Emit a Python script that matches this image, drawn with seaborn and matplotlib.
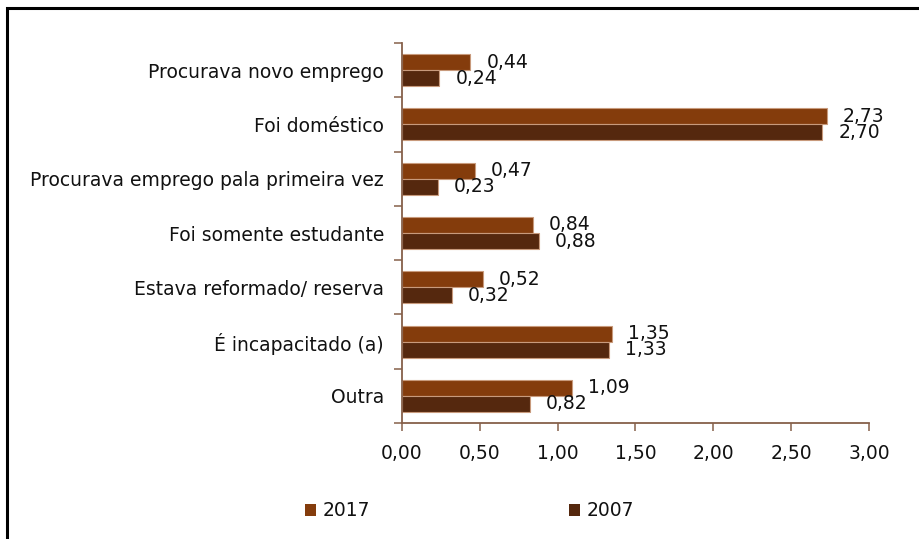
import matplotlib
matplotlib.use("Agg")
import matplotlib.pyplot as plt
import seaborn as sns
import pandas as pd
from matplotlib.patches import Rectangle
from matplotlib.ticker import FixedLocator, FuncFormatter

categories = [
    "Procurava novo emprego",
    "Foi doméstico",
    "Procurava emprego pala primeira vez",
    "Foi somente estudante",
    "Estava reformado/ reserva",
    "É incapacitado (a)",
    "Outra",
]
values_2017 = [0.44, 2.73, 0.47, 0.84, 0.52, 1.35, 1.09]
values_2007 = [0.24, 2.70, 0.23, 0.88, 0.32, 1.33, 0.82]
series = ["2017", "2007"]
x_ticks = [0.0, 0.5, 1.0, 1.5, 2.0, 2.5, 3.0]

df = pd.DataFrame({
    "cat": categories * 2,
    "val": values_2017 + values_2007,
    "year": [series[0]] * len(categories) + [series[1]] * len(categories),
})

sns.set_theme(style="white")
plt.rcParams["font.family"] = ["DejaVu Sans"]
FS = 13.5
axis_col = "#86604A"

W, H = 920, 539
fig = plt.figure(figsize=(W / 100, H / 100), dpi=100)
ax = fig.add_axes([402 / W, 1 - 423 / H, (869 - 402) / W, (423 - 43) / H])

sns.barplot(data=df, y="cat", x="val", hue="year", order=categories,
            hue_order=series, palette=["#843C0C", "#55280E"], saturation=1,
            width=0.59, edgecolor="#C89A7C", linewidth=0.8, ax=ax, orient="h")

fmt = lambda v: f"{v:.2f}".replace(".", ",")
for cont in ax.containers:
    ax.bar_label(cont, fmt=fmt, padding=11.5, fontsize=FS, color="#111111")

ax.set_xlim(0, 3.0)
ax.set_ylim(len(categories) - 0.5, -0.5)
ax.set_xlabel("")
ax.set_ylabel("")
ax.xaxis.set_major_locator(FixedLocator(x_ticks))
ax.xaxis.set_major_formatter(FuncFormatter(lambda v, p: fmt(v)))
ax.set_yticks(range(len(categories)))
ax.set_yticklabels(categories)
ax.yaxis.set_minor_locator(FixedLocator([i - 0.5 for i in range(len(categories) + 1)]))
ax.tick_params(axis="y", which="major", length=0, pad=13, labelsize=FS, labelcolor="#111111")
ax.tick_params(axis="y", which="minor", length=6, width=1.1, color=axis_col, left=True, direction="out")
ax.tick_params(axis="x", which="major", length=6, width=1.1, color=axis_col, bottom=True,
               direction="out", pad=9, labelsize=FS, labelcolor="#111111")

for s in ["top", "right"]:
    ax.spines[s].set_visible(False)
for s in ["left", "bottom"]:
    ax.spines[s].set_color(axis_col)
    ax.spines[s].set_linewidth(1.3)

sns.move_legend(ax, loc="center left", bbox_to_anchor=(305 / W, 1 - 511 / H),
                bbox_transform=fig.transFigure, ncol=2, frameon=False, title=None,
                fontsize=FS, handlelength=0.6, handleheight=0.6, handletextpad=0.35,
                columnspacing=10.6, borderpad=0, borderaxespad=0)
leg = ax.get_legend()
for h in leg.legend_handles:
    h.set_edgecolor("none")
for t in leg.get_texts():
    t.set_color("#111111")

# outer frame (left and top edges visible)
fig.add_artist(Rectangle((7 / W, -0.2), 1.5, 1.2 - 7.5 / H, transform=fig.transFigure,
                         fill=False, edgecolor="black", linewidth=2.2, clip_on=False))

fig.savefig("out.png", dpi=100)
